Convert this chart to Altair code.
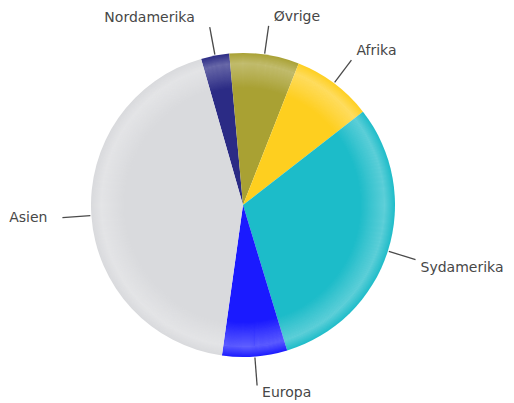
import math
import altair as alt
import pandas as pd

# Data (percent shares, clockwise from Nordamerika)
regions = ["Nordamerika", "Øvrige", "Afrika", "Sydamerika", "Europa", "Asien"]
shares = [3.0, 7.4, 8.5, 30.8, 6.9, 43.3]
colors = ["#2b2b85", "#a9a133", "#fecf1f", "#1cbcc9", "#1a1aff", "#d9dadd"]

df = pd.DataFrame({"region": regions, "share": shares, "idx": list(range(len(regions)))})

CX, CY, R = 235, 197, 152
START = math.radians(-16)
theta_scale = alt.Scale(range=[START, START + 2 * math.pi])

base = alt.Chart(df)
theta = alt.Theta("share:Q", stack=True, scale=theta_scale)
order = alt.Order("idx:Q")

pie = base.mark_arc(x=CX, y=CY, outerRadius=R).encode(
    theta=theta,
    color=alt.Color("region:N", scale=alt.Scale(domain=regions, range=colors), legend=None),
    order=order,
)

# smooth glossy highlight band near the rim
rings = []
for r in range(116, 152):
    if r < 141:
        o = 0.30 * (r - 116) / 25
    else:
        o = 0.30 * (152 - r) / 11
    if o <= 0.005:
        continue
    rings.append(
        base.mark_arc(x=CX, y=CY, innerRadius=r, outerRadius=r + 1, fill="white", fillOpacity=o).encode(
            theta=theta, order=order
        )
    )

geo = (
    base.transform_joinaggregate(total="sum(share)")
    .transform_window(cum="sum(share)", sort=[alt.SortField("idx")], frame=[None, 0])
    .transform_calculate(ang=f"{START} + (datum.cum - datum.share/2)/datum.total*2*PI")
    .transform_calculate(
        lx1=f"{CX} + {R + 1}*sin(datum.ang)",
        ly1=f"{CY} - {R + 1}*cos(datum.ang)",
        lx2=f"{CX} + {R + 29}*sin(datum.ang)",
        ly2=f"{CY} - {R + 29}*cos(datum.ang)",
    )
    .transform_calculate(
        tx="datum.lx2 + (sin(datum.ang) > 0 ? 5 : -15)",
        ty="datum.ly2 + (cos(datum.ang) > 0.2 ? -9 : (cos(datum.ang) < -0.2 ? 8 : 0))",
    )
)

leaders = geo.mark_rule(color="#4a4a4a", strokeWidth=1.3).encode(
    x=alt.X("lx1:Q", scale=None, axis=None),
    y=alt.Y("ly1:Q", scale=None, axis=None),
    x2="lx2:Q",
    y2="ly2:Q",
)

text_style = dict(baseline="middle", font="DejaVu Sans", fontSize=14, color="#474747")
labels_right = geo.transform_filter("sin(datum.ang) > 0").mark_text(align="left", **text_style).encode(
    x=alt.X("tx:Q", scale=None, axis=None),
    y=alt.Y("ty:Q", scale=None, axis=None),
    text="region:N",
)
labels_left = geo.transform_filter("sin(datum.ang) <= 0").mark_text(align="right", **text_style).encode(
    x=alt.X("tx:Q", scale=None, axis=None),
    y=alt.Y("ty:Q", scale=None, axis=None),
    text="region:N",
)

chart = (
    alt.layer(pie, *rings, leaders, labels_right, labels_left)
    .properties(width=498, height=395, padding=0, autosize="none", background="white")
    .configure_view(stroke=None)
)

chart.save("out.html", embed_options={"renderer": "svg", "actions": False})
